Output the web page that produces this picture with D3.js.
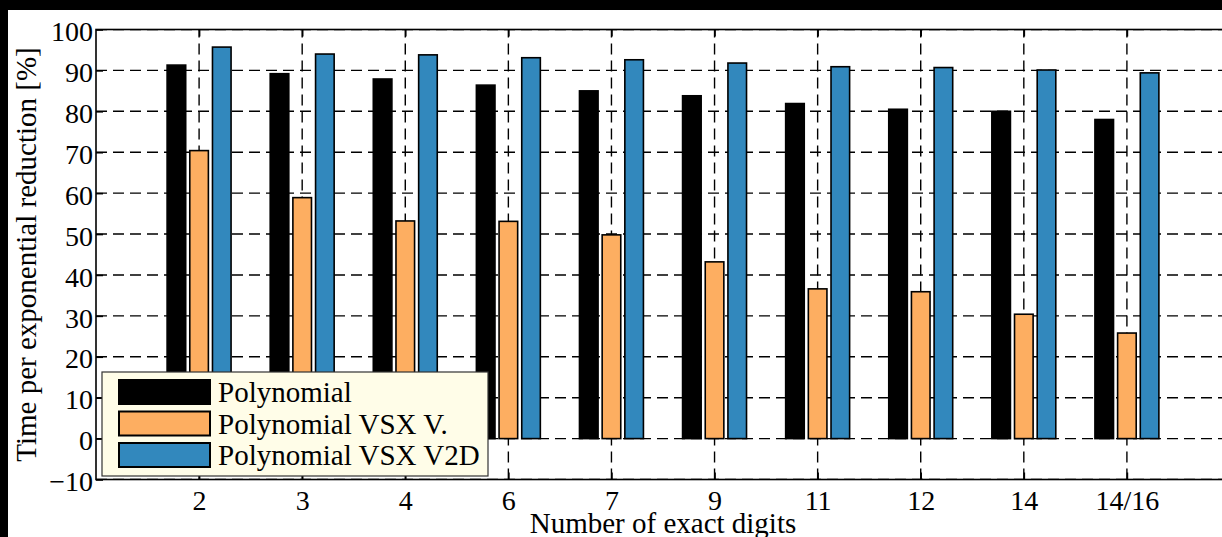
<html>
  <head>
    <meta charset="utf-8">
    <title>exponential reduction</title>
    <script src="https://cdn.jsdelivr.net/npm/d3@7/dist/d3.min.js"></script>
    <style>
body { margin: 0; background: #000; }
text { font-family: "Liberation Serif", "DejaVu Serif", serif; fill: #000; }
.grid line { stroke: #000; stroke-width: 1.4px; stroke-dasharray: 11,6; }
.axis path, .axis line { stroke: #000; stroke-width: 1.6px; }
    </style>
  </head>
  <body>
    <script>

// data
var digits = ["2", "3", "4", "6", "7", "9", "11", "12", "14", "14/16"];
var polynomial = [91.3, 89.2, 87.9, 86.4, 85.0, 83.8, 81.9, 80.5, 80.0, 78.0];
var polyVSXV = [70.4, 58.9, 53.2, 53.1, 49.8, 43.2, 36.6, 35.9, 30.4, 25.8];
var polyVSXV2D = [95.7, 94.0, 93.8, 93.1, 92.6, 91.8, 90.9, 90.7, 90.1, 89.4];
var yTicks = [-10, 0, 10, 20, 30, 40, 50, 60, 70, 80, 90, 100];

var series = [
  {name: "Polynomial", values: polynomial, color: "#000000"},
  {name: "Polynomial VSX V.", values: polyVSXV, color: "#fdae61"},
  {name: "Polynomial VSX V2D", values: polyVSXV2D, color: "#3288bd"}
];

var width = 1222,
    height = 537;

// plot box (right side runs past the picture edge, as in the original crop)
var pLeft = 96, pRight = 1230, pTop = 29.5, pBottom = 479.5;

var svg = d3.select("body").append("svg")
    .attr("width", width)
    .attr("height", height)
    .style("display", "block");

// figure background (black edges are part of the original crop)
svg.append("rect").attr("x", 8).attr("y", 10)
    .attr("width", width - 8).attr("height", height - 10)
    .attr("fill", "#fff");

var x = d3.scalePoint().domain(digits).range([pLeft, pRight]).padding(1);
var step = x.step();
var x1 = d3.scaleBand().domain(series.map(function(s) { return s.name; }))
    .range([-0.33 * step, 0.33 * step]).paddingInner(0.18).paddingOuter(0.09);
var y = d3.scaleLinear().domain([-10, 100]).range([pBottom, pTop]);

var plot = svg.append("g");
plot.append("clipPath").attr("id", "clip")
  .append("rect").attr("x", pLeft).attr("y", pTop)
    .attr("width", pRight - pLeft).attr("height", pBottom - pTop);

// dashed grid
var grid = plot.append("g").attr("class", "grid").attr("clip-path", "url(#clip)");
grid.selectAll(".h").data(yTicks).enter().append("line")
    .attr("x1", pLeft).attr("x2", pRight)
    .attr("y1", function(d) { return y(d); }).attr("y2", function(d) { return y(d); });
grid.selectAll(".v").data(digits).enter().append("line")
    .attr("y1", pBottom).attr("y2", pTop)
    .attr("x1", function(d) { return x(d); }).attr("x2", function(d) { return x(d); });

// bars
series.forEach(function(s) {
  plot.append("g").selectAll("rect").data(s.values).enter().append("rect")
      .attr("x", function(d, i) { return x(digits[i]) + x1(s.name); })
      .attr("width", x1.bandwidth())
      .attr("y", function(d) { return y(d); })
      .attr("height", function(d) { return y(0) - y(d); })
      .attr("fill", s.color)
      .attr("stroke", "#000")
      .attr("stroke-width", 1.6);
});

// axes
var yAxis = d3.axisLeft(y).tickValues(yTicks).tickSize(-7).tickPadding(3)
    .tickFormat(function(d) { return d < 0 ? "\u2212" + Math.abs(d) : d; });
var gy = svg.append("g").attr("class", "axis").attr("transform", "translate(" + pLeft + ",0)").call(yAxis);
gy.select(".domain").remove();
gy.selectAll("text").style("font-size", "28px").attr("dy", "0.4em");

var xAxis = d3.axisBottom(x).tickSize(-7).tickPadding(11);
var gx = svg.append("g").attr("class", "axis").attr("transform", "translate(0," + pBottom + ")").call(xAxis);
gx.select(".domain").remove();
gx.selectAll("text").style("font-size", "28px");

var gt = svg.append("g").attr("class", "axis").attr("transform", "translate(0," + pTop + ")")
    .call(d3.axisTop(x).tickSize(-7).tickFormat(""));
gt.select(".domain").remove();

// frame
svg.append("rect").attr("x", pLeft).attr("y", pTop)
    .attr("width", pRight - pLeft).attr("height", pBottom - pTop)
    .attr("fill", "none").attr("stroke", "#000").attr("stroke-width", 1.6);

// axis titles
svg.append("text")
    .attr("x", (pLeft + pRight) / 2).attr("y", 533)
    .attr("text-anchor", "middle").style("font-size", "29px")
    .text("Number of exact digits");
svg.append("text")
    .attr("transform", "translate(36," + (pTop + pBottom) / 2 + ") rotate(-90)")
    .attr("text-anchor", "middle").style("font-size", "29px")
    .text("Time per exponential reduction [%]");

// legend
var legend = svg.append("g").attr("transform", "translate(102,372)");
legend.append("rect").attr("width", 386).attr("height", 104)
    .attr("fill", "#fffde8").attr("stroke", "#333").attr("stroke-width", 1.2);
var item = legend.selectAll(".item").data(series).enter().append("g")
    .attr("transform", function(d, i) { return "translate(0," + (8 + i * 31.5) + ")"; });
item.append("rect").attr("x", 17).attr("width", 91).attr("height", 24)
    .attr("fill", function(d) { return d.color; })
    .attr("stroke", "#000").attr("stroke-width", 2);
item.append("text").attr("x", 116).attr("y", 22).style("font-size", "29px")
    .text(function(d) { return d.name; });

</script>
  </body>
</html>
